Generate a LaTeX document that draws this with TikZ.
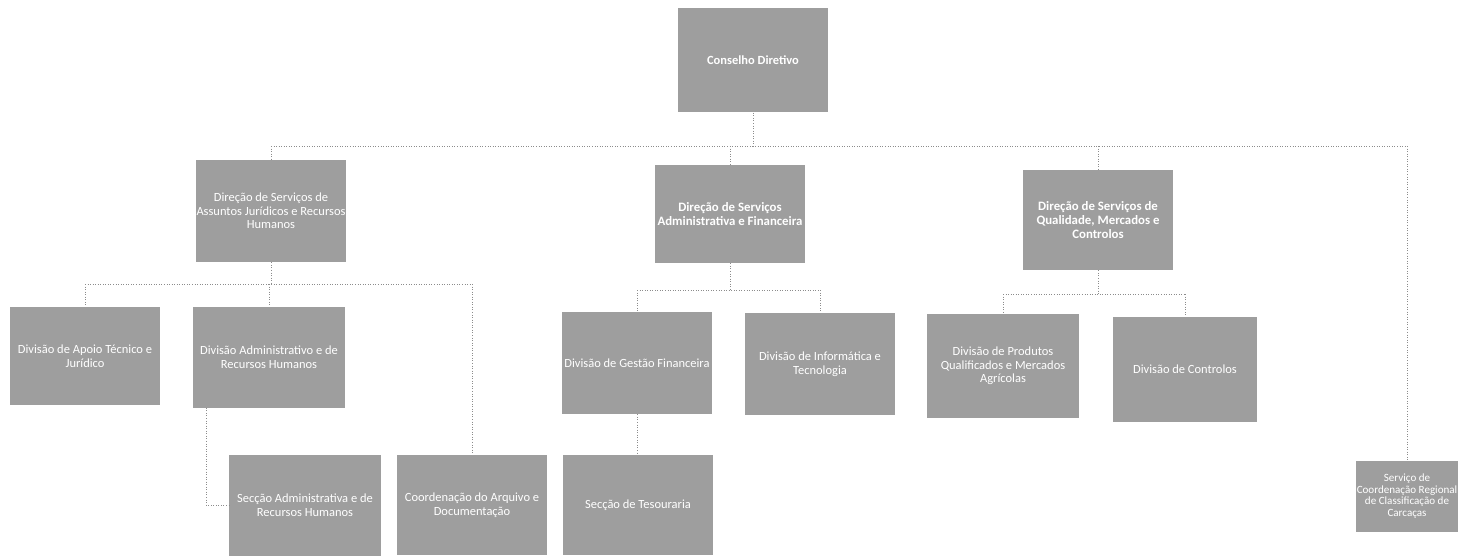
\documentclass[tikz,border=0pt]{standalone}
\usepackage{fontspec}
\setmainfont{Carlito}
\usepackage{xcolor}
\usepackage{tikz}
\usetikzlibrary{positioning, calc}
\definecolor{boxgray}{RGB}{158,158,158}
\definecolor{linegray}{RGB}{140,140,140}
\tikzset{
  unit/.style={rectangle, fill=boxgray, text=white,
    align=center, inner sep=0.5pt, minimum width=3cm, minimum height=2cm,
    font=\fontsize{7.1}{7.8}\selectfont},
  headunit/.style={unit, font=\bfseries\fontsize{7.3}{7.8}\selectfont},
  smallunit/.style={unit, inner sep=0pt, font=\fontsize{6.3}{6.6}\selectfont},
  link/.style={densely dotted, color=linegray, line width=0.45pt}
}
\begin{document}
\begin{tikzpicture}[x=0.02cm, y=-0.02cm]
  \useasboundingbox (0,0) rectangle (1471,559);

  % Top level
  \node[headunit, font=\bfseries\fontsize{7.1}{7.8}\selectfont, minimum width=3.02cm, minimum height=2.1cm] (conselho) at (753,60) {Conselho Diretivo};

  % Directions
  \node[unit, minimum height=2.04cm] (dsajrh) at (271,211) {Direção de Serviços de\\Assuntos Jurídicos e Recursos\\Humanos};
  \node[headunit, minimum height=1.96cm] (dsaf) at (730,214) {Direção de Serviços\\Administrativa e Financeira};
  \node[headunit] (dsqmc) at (1098,220) {Direção de Serviços de\\Qualidade, Mercados e\\Controlos};
  \node[smallunit, minimum width=2.04cm, minimum height=1.42cm] (scrcc) at (1407,496) {Serviço de\\Coordenação Regional\\de Classificação de\\Carcaças};

  % Divisions
  \node[unit, minimum height=1.96cm] (datj) at (85,356) {Divisão de Apoio Técnico e\\Jurídico};
  \node[unit, minimum width=3.04cm, minimum height=2.02cm] (darh) at (269,357) {Divisão Administrativo e de\\Recursos Humanos};
  \node[unit, minimum height=2.04cm] (dgf) at (637,363) {Divisão de Gestão Financeira};
  \node[unit, minimum height=2.04cm] (dit) at (820,364) {Divisão de Informática e\\Tecnologia};
  \node[unit, minimum width=3.04cm, minimum height=2.08cm] (dpq) at (1003,366) {Divisão de Produtos\\Qualificados e Mercados\\Agrícolas};
  \node[unit, minimum width=2.9cm, minimum height=2.1cm] (dctrl) at (1185,369) {Divisão de Controlos};

  % Sections
  \node[unit, minimum width=3.04cm, minimum height=2.02cm] (sarh) at (305,505) {Secção Administrativa e de\\Recursos Humanos};
  \node[unit, minimum height=2cm] (cad) at (472,505) {Coordenação do Arquivo e\\Documentação};
  \node[unit, minimum height=2cm] (stes) at (638,505) {Secção de Tesouraria};

  % Bus levels
  \coordinate (busmain) at (0,146);
  \coordinate (busa) at (0,284);
  \coordinate (busb) at (0,290);
  \coordinate (busc) at (0,294);

  % Top to directions
  \draw[link] (conselho.south) -- (conselho.south |- busmain);
  \draw[link] (dsajrh.north |- busmain) -- (scrcc.north |- busmain);
  \foreach \n in {dsajrh, dsaf, dsqmc, scrcc}
    \draw[link] (\n.north |- busmain) -- (\n.north);

  % Juridicos e RH
  \draw[link] (dsajrh.south) -- (dsajrh.south |- busa);
  \draw[link] (datj.north |- busa) -- (cad.north |- busa);
  \foreach \n in {datj, darh, cad}
    \draw[link] (\n.north |- busa) -- (\n.north);
  \draw[link] ([xshift=-1.26cm]darh.south) |- (sarh.west);

  % Administrativa e Financeira
  \draw[link] (dsaf.south) -- (dsaf.south |- busb);
  \draw[link] (dgf.north |- busb) -- (dit.north |- busb);
  \foreach \n in {dgf, dit}
    \draw[link] (\n.north |- busb) -- (\n.north);
  \draw[link] (dgf.south) -- (dgf.south |- stes.north);

  % Qualidade, Mercados e Controlos
  \draw[link] (dsqmc.south) -- (dsqmc.south |- busc);
  \draw[link] (dpq.north |- busc) -- (dctrl.north |- busc);
  \foreach \n in {dpq, dctrl}
    \draw[link] (\n.north |- busc) -- (\n.north);
\end{tikzpicture}
\end{document}
